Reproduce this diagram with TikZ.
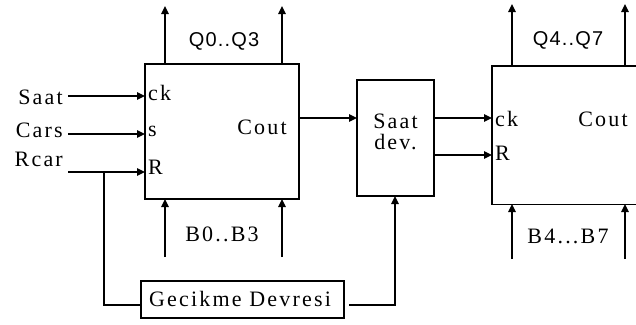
\documentclass[tikz,border=0pt]{standalone}
\usepackage{fontspec}
\setmainfont{Liberation Serif}[LetterSpace=10]
\newfontfamily\sansf{Liberation Sans}[LetterSpace=6]
\usetikzlibrary{arrows.meta,calc}
\begin{document}
\begin{tikzpicture}[x=1pt,y=-1pt,
  wire/.style={line width=1.3pt},
  arr/.style={wire,-{Triangle[length=8pt,width=7.5pt]}},
  blk/.style={draw,line width=1.3pt,inner sep=0pt},
  lbl/.style={inner sep=0pt,font=\fontsize{22}{24}\selectfont},
  slbl/.style={inner sep=0pt,font=\sansf\fontsize{20}{22}\selectfont}]
\useasboundingbox (0,0) rectangle (636,324);
% blocks
\node[blk,minimum width=154pt,minimum height=135pt] (box1) at (222,131.5) {};
\node[blk,minimum width=77pt,minimum height=116pt] (sdev) at (395.5,138) {};
\node[inner sep=0pt,minimum width=144pt,minimum height=138pt,anchor=north west] (box2) at (492,66) {};
\draw[wire] (box2.north east) -- (box2.north west) -- (box2.south west) -- (box2.south east);
\node[blk,minimum width=203pt,minimum height=37pt] (gec) at (242.5,299.5) {};
\node[lbl] (gect) at (240,299) {Gecikme Devresi};
\node[lbl,align=center,font=\fontsize{22}{21}\selectfont] (sdevt) at (395.5,132) {Saat\\dev.};
% input labels
\node[lbl,anchor=east] (saat) at (63,97) {Saat};
\node[lbl,anchor=east] (cars) at (63,130) {Cars};
\node[lbl,anchor=east] (rcar) at (63,159) {Rcar};
% pin labels
\node[lbl,anchor=west] (ck1) at (148,93) {ck};
\node[lbl,anchor=west] (s1) at (148,131) {s};
\node[lbl,anchor=west] (r1) at (148,167) {R};
\node[lbl] (cout1) at (262,127) {Cout};
\node[lbl,anchor=west] (ck2) at (495,119) {ck};
\node[lbl,anchor=west] (r2) at (495,153) {R};
\node[lbl] (cout2) at (603,119) {Cout};
\node[slbl] (q03) at (224,41) {Q0..Q3};
\node[slbl] (q47) at (568,40) {Q4..Q7};
\node[lbl] (b03) at (222,234) {B0..B3};
\node[lbl] (b47) at (568,236) {B4...B7};
% coordinates
\coordinate (saatS) at (68,96);   \coordinate (saatE) at (145,96);
\coordinate (carsS) at (68,134);  \coordinate (carsE) at (145,134);
\coordinate (rcarS) at (68,172);  \coordinate (rcarE) at (145,172);
\coordinate (rb) at (104,172); \coordinate (rbd) at (104,305); \coordinate (gecW) at (141,305);
\coordinate (gecE) at (349,305); \coordinate (gcor) at (395,305); \coordinate (sdevB) at (395,196);
\coordinate (qa1) at (165,64); \coordinate (qa1t) at (165,6);
\coordinate (qb1) at (282,64); \coordinate (qb1t) at (282,6);
\coordinate (ba1) at (165,199); \coordinate (ba1s) at (165,257);
\coordinate (bb1) at (282,199); \coordinate (bb1s) at (282,257);
\coordinate (qa2) at (512,66); \coordinate (qa2t) at (512,4);
\coordinate (qb2) at (625,66); \coordinate (qb2t) at (625,4);
\coordinate (ba2) at (512,204); \coordinate (ba2s) at (512,259);
\coordinate (bb2) at (625,204); \coordinate (bb2s) at (625,259);
\coordinate (cout1E) at (299,118); \coordinate (sdevW) at (357,118);
\coordinate (sdevE1) at (434,118); \coordinate (box2ck) at (492,118);
\coordinate (sdevE2) at (434,155); \coordinate (box2r) at (492,155);
% connectors
\draw[arr] (saatS) -- (saatE);
\draw[arr] (carsS) -- (carsE);
\draw[arr] (rcarS) -- (rcarE);
\draw[wire] (rb) -- (rbd) -- (gecW);
\draw[arr] (gecE) -- (gcor) -- (sdevB);
\draw[arr] (qa1) -- (qa1t);
\draw[arr] (qb1) -- (qb1t);
\draw[arr] (ba1s) -- (ba1);
\draw[arr] (bb1s) -- (bb1);
\draw[arr] (qa2) -- (qa2t);
\draw[arr] (qb2) -- (qb2t);
\draw[arr] (ba2s) -- (ba2);
\draw[arr] (bb2s) -- (bb2);
\draw[arr] (cout1E) -- (sdevW);
\draw[arr] (sdevE1) -- (box2ck);
\draw[arr] (sdevE2) -- (box2r);
\end{tikzpicture}
\end{document}
